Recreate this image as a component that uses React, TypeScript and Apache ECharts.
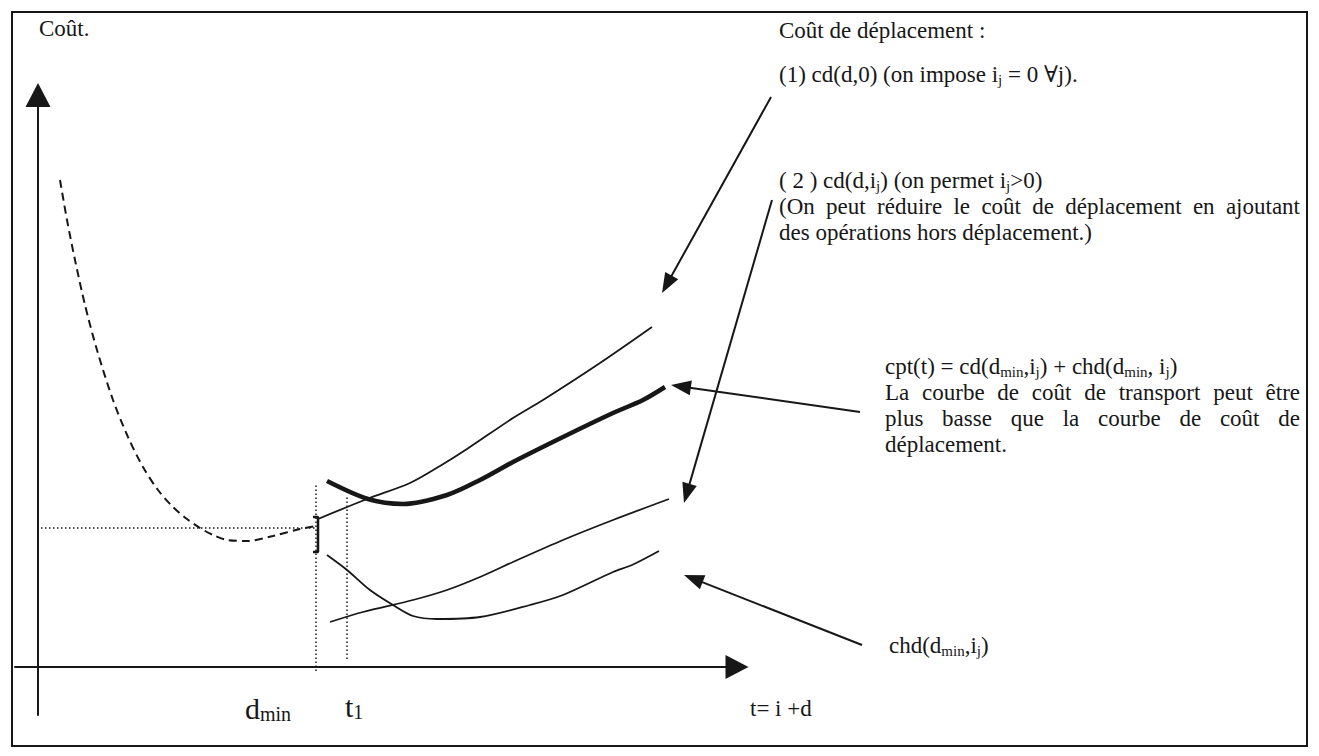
import React, { useEffect, useRef } from "react";
import * as echarts from "echarts";

const W = 1319;
const H = 756;
const FONT = "Liberation Serif, DejaVu Serif, serif";
const INK = "#171717";

// Diagram coordinates: x = distance right of the cost axis, y = distance above the time axis
const dashedCurve: [number, number][] = [
  [22, 487], [29, 447], [37, 407], [47, 362], [59, 317], [75, 267], [90, 230],
  [105, 200], [120, 177], [135, 160], [149, 148], [162, 139], [175, 132],
  [189, 127], [209, 126], [235, 131], [262, 138], [278, 141],
];
const cdZero: [number, number][] = [
  [280, 148], [329, 168], [372, 184], [402, 201], [429, 218], [475, 249],
  [505, 267], [562, 304], [614, 340],
];
const cptCurve: [number, number][] = [
  [289, 186], [330, 168], [365, 163], [409, 172], [442, 187], [475, 205],
  [525, 230], [575, 254], [605, 267], [627, 280],
];
const cdIj: [number, number][] = [
  [292, 45], [325, 55], [375, 67], [409, 77], [442, 90], [475, 105],
  [525, 127], [575, 147], [631, 168],
];
const chdCurve: [number, number][] = [
  [289, 112], [309, 97], [332, 77], [355, 62], [375, 51], [399, 48],
  [442, 50], [492, 62], [525, 72], [575, 95], [594, 102], [621, 116],
];
const costGuide: [number, number][] = [[3, 139], [278, 139]];
const dminGuide: [number, number][] = [[278, -4], [278, 184]];
const t1Guide: [number, number][] = [[309, 8], [309, 172]];
const bracket: [number, number][] = [[275, 150], [280, 150], [280, 115], [275, 115]];

const arrowFrom: [number, number][] = [[733, 570], [734, 467], [822, 255], [824, 22]];
const arrowTo: [number, number][] = [[624, 374], [646, 164], [633, 282], [646, 92]];

const block1 = [
  "Coût de déplacement :",
  "(1) cd(d,0) (on impose i_{j} = 0 ∀j).",
  "( 2 ) cd(d,i_{j}) (on permet i_{j}>0)",
  "(On peut réduire le coût de déplacement en ajoutant",
  "des opérations hors déplacement.)",
];
const block1Y = [30, 74, 180, 206, 232];
const block1Justify = [false, false, false, true, false];

const block2 = [
  "cpt(t) = cd(d_{min},i_{j}) + chd(d_{min}, i_{j})",
  "La courbe de coût de transport peut être",
  "plus basse que la courbe de coût de",
  "déplacement.",
];
const block2Y = [366, 392, 418, 444];
const block2Justify = [false, true, true, false];

const chdLabel = "chd(d_{min},i_{j})";
const axisYLabel = "Coût.";
const axisXLabel = "t= i +d";
const dminLabel = "d_{min}";
const t1Label = "t_{1}";

const BODY = 23;

function richify(s: string): string {
  let out = "";
  let buf = "";
  let i = 0;
  const flush = () => {
    if (buf) out += `{n|${buf.replace(/ /g, "\u00a0")}}`;
    buf = "";
  };
  while (i < s.length) {
    if (s[i] === "_" && s[i + 1] === "{") {
      flush();
      const j = s.indexOf("}", i);
      out += `{s|${s.slice(i + 2, j)}}`;
      i = j + 1;
    } else {
      buf += s[i];
      i++;
    }
  }
  flush();
  return out;
}

const richBody = {
  n: { fontSize: BODY, fontFamily: FONT, fill: INK, lineHeight: 26 },
  s: { fontSize: 15, fontFamily: FONT, fill: INK, lineHeight: 16, verticalAlign: "bottom" },
};
const richBig = {
  n: { fontSize: 30, fontFamily: FONT, fill: INK, lineHeight: 32 },
  s: { fontSize: 20, fontFamily: FONT, fill: INK, lineHeight: 16, verticalAlign: "bottom" },
};

let ctx: CanvasRenderingContext2D | null = null;
function measure(text: string, size: number): number {
  if (!ctx) ctx = document.createElement("canvas").getContext("2d");
  ctx!.font = `${size}px ${FONT}`;
  return ctx!.measureText(text).width;
}

function richText(s: string, x: number, y: number, rich: any) {
  return {
    type: "text",
    x,
    y,
    z: 10,
    style: {
      text: richify(s),
      rich,
      fontFamily: FONT,
      fontSize: BODY,
      align: "left",
      verticalAlign: "middle",
      fill: INK,
    },
  };
}

function plainText(s: string, x: number, y: number, size: number) {
  return {
    type: "text",
    x,
    y,
    z: 10,
    style: { text: s, fontSize: size, fontFamily: FONT, fill: INK, align: "left", verticalAlign: "middle" },
  };
}

function justified(line: string, x0: number, x1: number, y: number) {
  const words = line.split(" ");
  const widths = words.map((w) => measure(w, BODY));
  const total = widths.reduce((a, b) => a + b, 0);
  const gap = (x1 - x0 - total) / (words.length - 1);
  let x = x0;
  return words.map((w, i) => {
    const el = plainText(w, x, y, BODY);
    x += widths[i] + gap;
    return el;
  });
}

function buildBlock(lines: string[], ys: number[], just: boolean[], x0: number, x1: number) {
  const out: any[] = [];
  lines.forEach((l, i) => {
    if (just[i]) out.push(...justified(l, x0, x1, ys[i]));
    else out.push(richText(l, x0, ys[i], richBody));
  });
  return out;
}

function lineSeries(data: [number, number][], width: number, type: any = "solid", smooth: number | boolean = 0.3) {
  return {
    type: "line",
    xAxisIndex: 0,
    yAxisIndex: 0,
    data,
    smooth,
    symbol: "none",
    showSymbol: false,
    silent: true,
    lineStyle: { color: INK, width, type, cap: "butt" },
    emphasis: { disabled: true },
  };
}

const HEAD = 20;
function arrowData() {
  return arrowFrom.map((f, i) => {
    const t = arrowTo[i];
    const dx = t[0] - f[0];
    const dy = t[1] - f[1];
    const len = Math.hypot(dx, dy);
    const end = [t[0] - (dx / len) * (HEAD / 2), t[1] - (dy / len) * (HEAD / 2)];
    return [{ coord: f }, { coord: end }];
  });
}

export default function App() {
  const ref = useRef<HTMLDivElement>(null);
  useEffect(() => {
    if (!ref.current) return;
    const chart = echarts.init(ref.current, undefined, { renderer: "svg", width: W, height: H });
    const hiddenAxis = { show: false };
    const axisStyle = {
      axisTick: { show: false },
      axisLabel: { show: false },
      splitLine: { show: false },
    };
    const option: any = {
      animation: false,
      backgroundColor: "#ffffff",
      textStyle: { fontFamily: FONT },
      grid: [
        { left: 0, top: 0, width: W, height: H },
        { left: 15, top: 95, width: 722, height: 620 },
      ],
      xAxis: [
        { type: "value", gridIndex: 0, min: -38, max: 1281, ...hiddenAxis },
        {
          type: "value",
          gridIndex: 1,
          min: -23,
          max: 699,
          ...axisStyle,
          axisLine: {
            show: true,
            onZero: true,
            symbol: ["none", "triangle"],
            symbolSize: [24, 23],
            lineStyle: { color: INK, width: 2 },
          },
        },
      ],
      yAxis: [
        { type: "value", gridIndex: 0, min: -89, max: 667, ...hiddenAxis },
        {
          type: "value",
          gridIndex: 1,
          min: -48,
          max: 572,
          ...axisStyle,
          axisLine: {
            show: true,
            onZero: true,
            symbol: ["none", "triangle"],
            symbolSize: [25, 24],
            lineStyle: { color: INK, width: 2 },
          },
        },
      ],
      series: [
        lineSeries(dashedCurve, 2, [8, 5]),
        lineSeries(cdZero, 1.8),
        lineSeries(cptCurve, 4.5),
        lineSeries(cdIj, 1.8),
        {
          ...lineSeries(chdCurve, 1.8),
          markLine: {
            silent: true,
            symbol: ["none", "triangle"],
            symbolSize: [15, HEAD],
            label: { show: false },
            lineStyle: { color: INK, width: 2, type: "solid" },
            emphasis: { disabled: true },
            data: arrowData(),
          },
        },
        lineSeries(costGuide, 1.5, [1.5, 2.5], false),
        lineSeries(dminGuide, 1.5, [1.5, 2.5], false),
        lineSeries(t1Guide, 1.5, [1.5, 2.5], false),
        lineSeries(bracket, 2.5, "solid", false),
      ],
      graphic: [
        {
          type: "rect",
          shape: { x: 12, y: 12, width: 1295, height: 734 },
          style: { fill: "none", stroke: INK, lineWidth: 2 },
          z: 5,
        },
        plainText(axisYLabel, 39, 28, BODY),
        plainText(axisXLabel, 750, 708, BODY),
        richText(dminLabel, 245, 708, richBig),
        richText(t1Label, 345, 706, richBig),
        richText(chdLabel, 889, 645, richBody),
        ...buildBlock(block1, block1Y, block1Justify, 779, 1300),
        ...buildBlock(block2, block2Y, block2Justify, 885, 1300),
      ],
    };
    chart.setOption(option);
    return () => chart.dispose();
  }, []);
  return (
    <div
      ref={ref}
      style={{ position: "absolute", left: 0, top: 0, width: W, height: H, background: "#fff" }}
    />
  );
}
